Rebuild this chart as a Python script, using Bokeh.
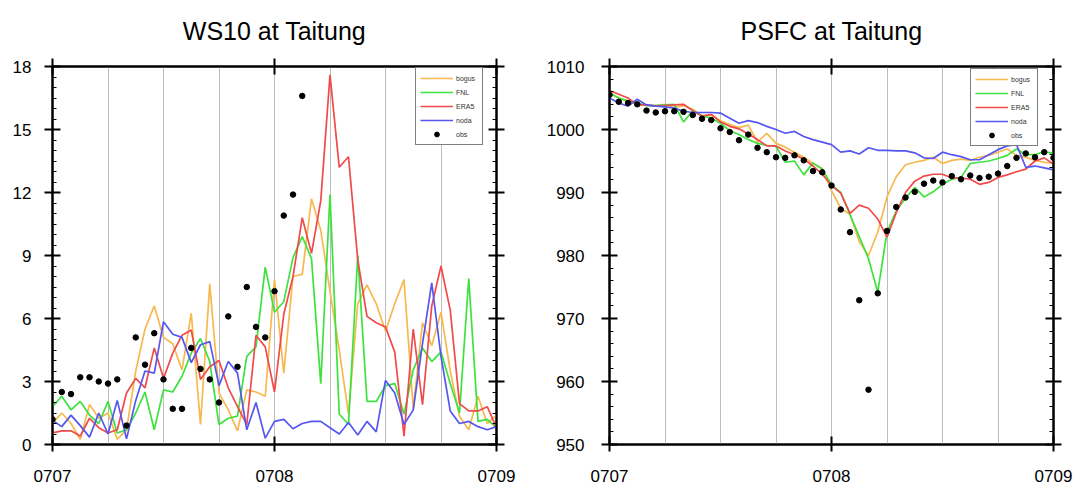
from bokeh.plotting import figure
from bokeh.layouts import row
from bokeh.models import (LinearAxis, FixedTicker, SingleIntervalTicker, Range1d, Legend,
                          LegendItem, CustomJSTickFormatter)
from bokeh.embed import file_html
from bokeh.resources import INLINE

# ---------------- data ----------------
hours = list(range(49))                      # 0707 00UTC .. 0709 00UTC, hourly
x_tick_hours = [0, 24, 48]
x_tick_labels = ["0707", "0708", "0709"]
grid_hours = [6, 12, 18, 24, 30, 36, 42]
series_names = ["bogus", "FNL", "ERA5", "noda"]

ws_bogus = [1.0, 1.5, 1.0, 0.25, 1.9, 1.25, 1.5, 0.25, 0.7, 3.5, 5.5, 6.6, 5.1, 4.8, 3.55, 6.25,
            0.95, 7.65, 2.45, 1.65, 0.65, 2.6, 2.5, 2.3, 7.85, 3.4, 8.0, 8.1, 11.7, 10.2, 7.3, 4.5,
            1.45, 6.7, 7.6, 6.7, 5.4, 6.7, 7.85, 1.7, 5.8, 4.7, 6.3, 3.5, 1.35, 0.7, 2.3, 1.0, 1.4]
ws_fnl = [1.8, 2.3, 1.65, 2.05, 1.4, 1.0, 2.05, 0.55, 0.7, 1.5, 2.5, 0.7, 2.6, 2.5, 3.25, 4.35,
          5.05, 3.95, 0.95, 1.25, 1.35, 4.2, 4.65, 8.45, 6.3, 6.8, 8.9, 9.9, 8.85, 2.9, 11.9, 1.45,
          0.95, 9.0, 2.05, 2.05, 2.8, 2.9, 1.45, 3.55, 4.6, 3.95, 4.4, 2.9, 1.5, 7.9, 1.1, 1.2, 0.8]
ws_era5 = [0.55, 0.65, 0.65, 0.4, 1.25, 0.8, 0.55, 0.7, 2.45, 3.15, 2.7, 4.6, 3.15, 4.35, 5.2, 5.45,
           3.1, 3.7, 4.0, 2.7, 1.8, 0.95, 5.2, 4.65, 2.5, 6.2, 8.0, 10.8, 9.1, 11.6, 17.6, 13.2,
           13.7, 8.8, 6.1, 5.8, 5.6, 4.4, 0.4, 5.5, 1.9, 6.6, 8.5, 6.4, 1.95, 1.6, 1.6, 1.8, 0.8]
ws_noda = [1.15, 0.85, 1.4, 0.9, 0.35, 1.5, 0.5, 2.1, 0.27, 2.1, 3.5, 3.4, 5.85, 5.25, 5.1, 3.9,
           4.75, 4.9, 2.8, 3.95, 3.4, 0.7, 2.0, 0.3, 1.1, 1.2, 0.75, 1.0, 1.1, 1.1, 0.8, 0.5,
           1.05, 0.45, 1.1, 0.6, 3.05, 2.45, 0.95, 1.65, 4.8, 7.7, 4.2, 1.6, 1.0, 1.1, 0.85, 0.7, 0.85]
ws_obs_hours = list(range(28))
ws_obs = [1.2, 2.5, 2.4, 3.2, 3.2, 3.0, 2.9, 3.1, 0.9, 5.1, 3.8, 5.3, 3.1, 1.7, 1.7, 4.6,
          3.6, 3.1, 2.0, 6.1, 3.7, 7.5, 5.6, 5.1, 7.3, 10.9, 11.9, 16.6]

ps_bogus = [1005.8, 1005.0, 1004.5, 1004.0, 1003.9, 1003.8, 1004.0, 1003.5, 1003.8, 1003.2, 1002.2,
            1002.3, 1001.4, 1000.8, 1000.3, 1000.7, 998.0, 999.4, 997.8, 997.2, 996.4, 995.6, 994.6,
            993.8, 990.3, 987.5, 986.5, 982.2, 980.0, 983.7, 989.3, 992.5, 994.4, 994.8, 995.1, 995.6,
            994.6, 995.1, 995.3, 995.1, 995.6, 995.9, 996.4, 996.9, 995.9, 995.6, 995.1, 994.8, 994.6]
ps_fnl = [1005.8, 1005.0, 1004.5, 1004.2, 1003.8, 1003.8, 1003.9, 1004.0, 1001.2, 1003.0, 1002.2,
          1001.8, 1001.0, 999.8, 999.2, 998.4, 997.8, 997.5, 997.3, 994.8, 995.0, 992.8, 994.7, 993.7,
          991.2, 990.0, 986.5, 983.0, 979.5, 974.2, 983.7, 987.1, 989.1, 990.8, 989.3, 990.1, 991.3,
          992.1, 992.4, 994.6, 994.8, 995.0, 995.4, 995.9, 996.9, 996.0, 996.0, 996.5, 996.2]
ps_era5 = [1006.2, 1005.6, 1005.0, 1003.9, 1003.9, 1003.7, 1003.8, 1003.9, 1004.0, 1003.0, 1002.1,
           1002.4, 1001.2, 1000.5, 1000.1, 999.3, 998.4, 997.4, 997.4, 996.6, 996.0, 995.3, 994.2,
           992.9, 991.1, 989.9, 986.7, 988.0, 987.5, 985.8, 982.9, 986.8, 990.0, 991.8, 992.6, 992.9,
           992.9, 992.3, 992.3, 992.1, 991.3, 991.6, 992.4, 992.8, 993.3, 993.7, 995.0, 995.5, 994.5]
ps_noda = [1005.0, 1004.2, 1003.7, 1004.8, 1003.9, 1003.7, 1003.6, 1003.4, 1002.9, 1002.7, 1002.7,
           1002.7, 1002.6, 1001.8, 1001.0, 1001.4, 1001.1, 1000.5, 1000.0, 999.4, 999.7, 998.9, 998.4,
           998.0, 997.6, 996.4, 996.6, 996.1, 997.1, 996.7, 996.7, 996.6, 996.6, 996.3, 995.5, 995.4,
           996.4, 996.0, 995.7, 995.2, 995.2, 996.0, 996.8, 997.4, 997.6, 994.0, 994.2, 993.9, 993.6]
ps_obs_hours = list(range(49))
ps_obs = [1005.5, 1004.4, 1004.2, 1004.0, 1003.0, 1002.7, 1002.9, 1002.9, 1002.8, 1002.3,
          1001.7, 1001.5, 1000.2, 999.6, 998.3, 999.2, 997.1, 996.4, 995.6, 995.5,
          995.9, 995.1, 993.4, 993.2, 991.1, 987.3, 983.7, 972.9, 958.7, 974.0,
          983.9, 987.7, 989.2, 990.1, 991.4, 991.9, 991.6, 992.6, 992.1, 992.7,
          992.3, 992.5, 993.0, 994.2, 995.5, 996.2, 995.6, 996.4, 995.5]

colors = ["#f7b94e", "#3ee23e", "#f04a4a", "#5656f0"]
FONT = "Liberation Sans"
BLANK = CustomJSTickFormatter(code="return ''")


def style_axis(ax, ticker, labels=True, tick_out=8):
    ax.ticker = ticker
    ax.axis_line_color = "black"
    ax.axis_line_width = 2
    ax.major_tick_line_color = "black"
    ax.major_tick_line_width = 2
    ax.major_tick_in = 8
    ax.major_tick_out = tick_out
    ax.minor_tick_line_color = "black"
    ax.minor_tick_line_width = 1
    ax.minor_tick_in = 4
    ax.minor_tick_out = 0
    ax.major_label_text_font = FONT
    ax.major_label_text_font_size = "17px"
    ax.major_label_text_color = "black"
    if not labels:
        ax.formatter = BLANK


def make_panel(title, yr, y_int, y_minor, series, obs_h, obs_v, width, bl, br, legend_xy, ystand):
    p = figure(width=width, height=487, x_range=Range1d(0, 48), y_range=Range1d(*yr),
               output_backend="svg", toolbar_location=None,
               min_border_left=bl, min_border_right=br, min_border_top=65, min_border_bottom=43)
    p.title.text = title
    p.title.align = "center"
    p.title.text_font = FONT
    p.title.text_font_size = "25px"
    p.title.text_font_style = "normal"
    p.title.text_color = "black"
    p.title.standoff = 28
    p.outline_line_color = "black"
    p.outline_line_width = 2
    p.background_fill_color = "white"
    p.border_fill_color = "white"

    xt = FixedTicker(ticks=x_tick_hours, minor_ticks=[])
    yt = SingleIntervalTicker(interval=y_int, num_minor_ticks=y_minor)
    style_axis(p.xaxis[0], xt, tick_out=7)
    p.xaxis[0].major_label_overrides = {h: l for h, l in zip(x_tick_hours, x_tick_labels)}
    p.xaxis[0].major_label_standoff = 18
    style_axis(p.yaxis[0], yt)
    p.yaxis[0].major_label_standoff = ystand
    top = LinearAxis()
    style_axis(top, FixedTicker(ticks=x_tick_hours, minor_ticks=[]), labels=False)
    top.major_label_standoff = 0
    p.add_layout(top, "above")
    right = LinearAxis()
    style_axis(right, SingleIntervalTicker(interval=y_int, num_minor_ticks=y_minor), labels=False)
    right.major_label_standoff = 0
    p.add_layout(right, "right")

    p.ygrid.visible = False
    p.xgrid.ticker = FixedTicker(ticks=grid_hours)
    p.xgrid.grid_line_color = "#bdbdbd"
    p.xgrid.grid_line_width = 1

    items = []
    for name, vals, c in zip(series_names, series, colors):
        r = p.line(hours, vals, line_color=c, line_width=1.7)
        items.append(LegendItem(label=name, renderers=[r]))
    ro = p.scatter(obs_h, obs_v, size=5.5, color="black", marker="circle")
    items.append(LegendItem(label="obs", renderers=[ro]))

    lg = Legend(items=items, location=legend_xy, orientation="vertical",
                glyph_width=33, glyph_height=12, label_height=12, label_width=22,
                spacing=2, padding=4, margin=0, label_standoff=3,
                label_text_font=FONT, label_text_font_size="7px", label_text_color="#333333",
                border_line_color="black", border_line_width=1.5,
                background_fill_color="white", background_fill_alpha=1.0)
    p.add_layout(lg)
    return p


p1 = make_panel("WS10 at Taitung", (0, 18), 3, 6, [ws_bogus, ws_fnl, ws_era5, ws_noda],
                ws_obs_hours, ws_obs, 540, 52, 44, (363, 299), 13)
p2 = make_panel("PSFC at Taitung", (950, 1010), 10, 5, [ps_bogus, ps_fnl, ps_era5, ps_noda],
                ps_obs_hours, ps_obs, 538, 69, 25, (361, 298), 17)

layout = row(p1, p2)
open("out.html", "w").write(file_html(layout, INLINE))
